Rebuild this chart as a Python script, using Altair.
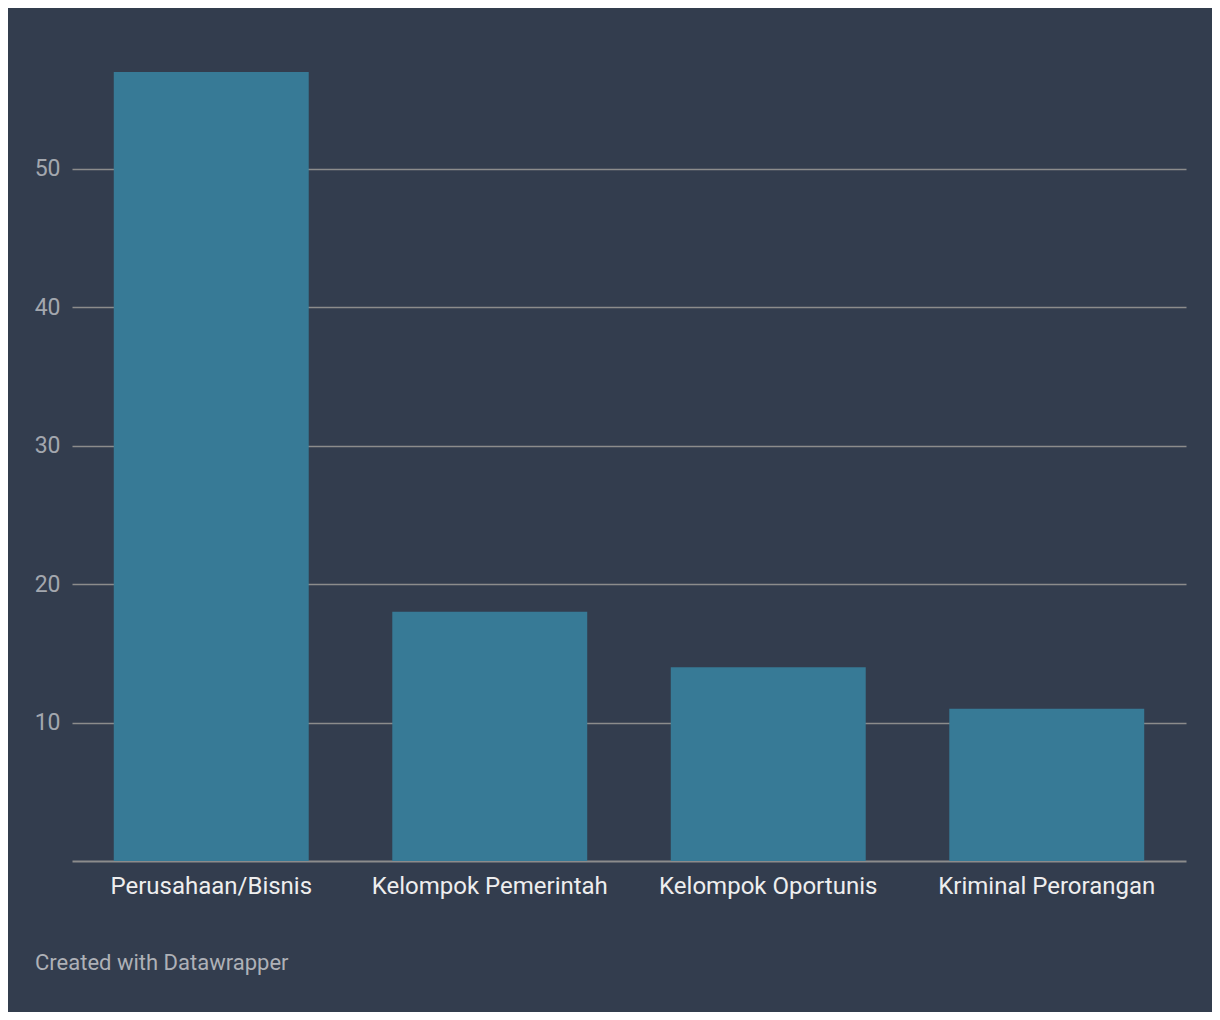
import altair as alt
import pandas as pd

categories = ["Perusahaan/Bisnis", "Kelompok Pemerintah", "Kelompok Oportunis", "Kriminal Perorangan"]
values = [57, 18, 14, 11]
y_ticks = [10, 20, 30, 40, 50]
footer = ["Created with Datawrapper"]

BG = "#333d4e"
df = pd.DataFrame({"category": categories, "value": values})

bars = alt.Chart(df).mark_bar(color="#377a96").encode(
    x=alt.X("category:N", sort=categories, title=None,
            scale=alt.Scale(paddingInner=0.3, paddingOuter=0.15),
            axis=alt.Axis(labelAngle=0, labelFontSize=24, labelColor="#eeeeee",
                          labelFont="Roboto", ticks=False, labelPadding=13,
                          labelLimit=0,
                          domainColor="#8c8c8c", domainWidth=2)),
    y=alt.Y("value:Q", title=None,
            scale=alt.Scale(domain=[0, 57], nice=False),
            axis=alt.Axis(values=y_ticks, labelFontSize=23, labelColor="#a3a7ae",
                          labelFont="Roboto", ticks=False, domain=False,
                          labelPadding=12, gridColor="#8c8c8c", gridWidth=1.5,
                          gridOpacity=1, zindex=0)),
)

foot = alt.Chart(pd.DataFrame({"t": footer})).mark_text(
    align="left", baseline="middle", fontSize=22, font="Roboto", color="#aeb1b7"
).encode(text="t:N", x=alt.value(-37), y=alt.value(891))

chart = alt.layer(bars, foot).properties(
    width=1114, height=789,
    background=BG,
    padding={"left": 64, "top": 64, "right": 26, "bottom": 151},
    autosize=alt.AutoSizeParams(type="none"),
).configure_view(stroke=None)

chart.save("out.html", embed_options={"renderer": "svg", "actions": False})
